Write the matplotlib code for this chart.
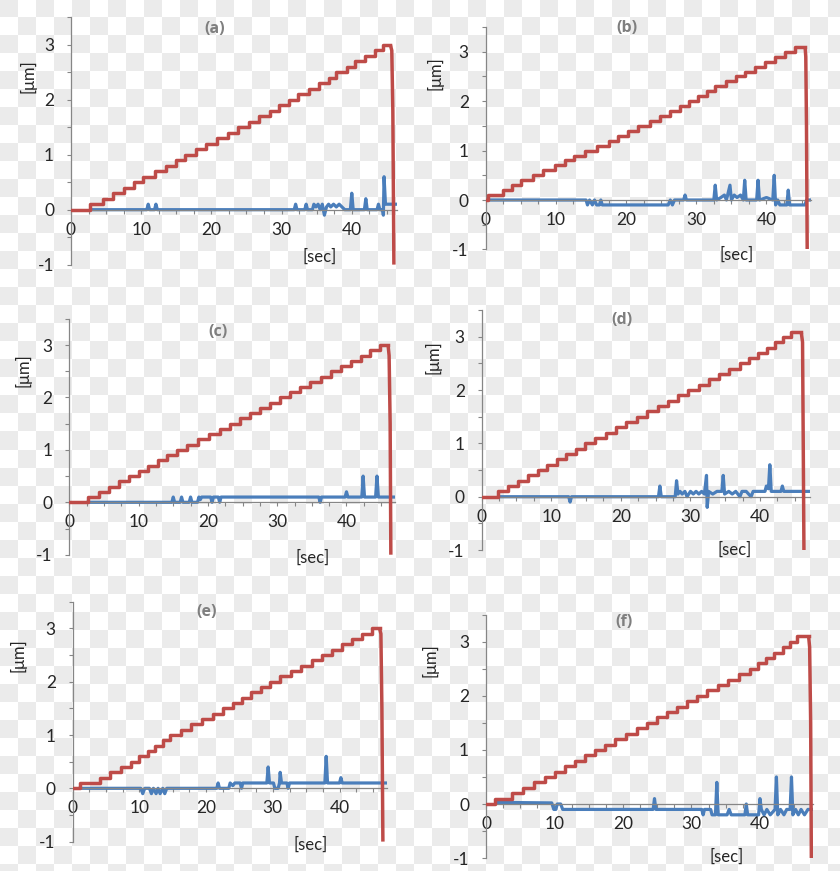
import matplotlib
matplotlib.use("Agg")
import matplotlib.pyplot as plt
import numpy as np
from matplotlib.ticker import MultipleLocator

plt.rcParams['font.family'] = ['Lato', 'DejaVu Sans']
plt.rcParams['axes.unicode_minus'] = False

# step levels of the red (position) curve [um]
levels_30 = [0.0, 0.1, 0.2, 0.3, 0.4, 0.5, 0.6, 0.7, 0.8, 0.9, 1.0, 1.1, 1.2, 1.3, 1.4, 1.5,
             1.6, 1.7, 1.8, 1.9, 2.0, 2.1, 2.2, 2.3, 2.4, 2.5, 2.6, 2.7, 2.8, 2.9, 3.0]
levels_31 = levels_30 + [3.1]

# times [sec] at which each red level starts
red_t_a = [0, 2.7, 4.6, 6.0, 7.6, 9.0, 10.3, 12.0, 13.5, 15.0, 16.2, 17.8, 19.3, 20.8, 22.3, 23.8,
           25.4, 26.8, 28.3, 29.7, 31.1, 32.4, 33.9, 35.4, 36.7, 37.8, 39.3, 40.5, 41.9, 43.3, 44.5]
red_t_b = [0, 0.3, 2.5, 3.7, 5.1, 6.8, 8.2, 9.9, 11.3, 12.6, 14.1, 15.8, 17.5, 18.9, 20.3, 21.7,
           23.4, 24.8, 26.3, 27.7, 29.0, 30.3, 31.5, 32.7, 34.3, 35.7, 36.9, 38.4, 39.8, 41.2, 42.6, 44.1]
red_t_c = [0, 2.7, 4.3, 5.7, 7.2, 8.6, 10.0, 11.4, 12.8, 14.1, 15.5, 17.0, 18.6, 20.1, 21.7, 23.2,
           24.6, 26.1, 27.5, 29.0, 30.4, 31.9, 33.3, 34.8, 36.3, 37.8, 39.2, 40.7, 42.1, 43.4, 44.8]
red_t_d = [0, 2.4, 3.8, 5.2, 6.6, 8.1, 9.4, 10.8, 12.1, 13.5, 14.8, 16.3, 17.8, 19.3, 20.8, 22.3,
           23.8, 25.3, 26.8, 28.2, 29.7, 31.2, 32.6, 34.1, 35.6, 37.1, 38.4, 39.7, 41.0, 42.1, 43.3, 44.4]
red_t_e = [0, 1.1, 4.1, 5.6, 7.3, 8.8, 10.0, 11.3, 12.4, 13.5, 14.6, 16.2, 17.8, 19.4, 21.0, 22.6,
           24.0, 25.4, 26.8, 28.2, 29.6, 31.1, 32.7, 34.2, 35.8, 37.3, 38.8, 40.3, 41.8, 43.3, 44.8]
red_t_f = [0, 1.3, 3.8, 5.4, 7.0, 8.6, 10.1, 11.5, 13.0, 14.4, 15.9, 17.4, 18.9, 20.4, 22.0, 23.5,
           25.0, 26.4, 27.9, 29.3, 30.8, 32.3, 33.9, 35.4, 37.0, 38.5, 39.7, 40.9, 42.1, 43.3, 44.4, 45.4]

# final fall of the red curve (time, value)
drop_a = [(45.5, 3.0), (45.7, 2.9), (45.85, 1.8), (46.0, -1.0)]
drop_b = [(45.5, 3.1), (45.6, 2.9), (45.7, 1.5), (45.8, -1.0)]
drop_c = [(46.0, 3.0), (46.15, 2.8), (46.3, 1.5), (46.4, -1.0)]
drop_d = [(45.9, 3.1), (46.1, 2.9), (46.2, 1.0), (46.3, -1.0)]
drop_e = [(46.0, 3.0), (46.2, 2.9), (46.35, 1.5), (46.5, -1.0)]
drop_f = [(47.1, 3.1), (47.25, 2.9), (47.4, 1.5), (47.5, -1.0)]

# blue (error) curve (time, value)
blue_a = [(2.9, 0), (10.8, 0), (11.0, 0.1), (11.2, 0), (11.9, 0), (12.1, 0.1), (12.3, 0), (31.8, 0),
          (32.0, 0.1), (32.2, 0), (33.3, 0), (33.5, 0.1), (33.7, 0), (34.4, 0), (34.6, 0.1), (34.9, 0.05),
          (35.2, 0.1), (35.5, 0), (35.8, 0.1), (36.1, -0.1), (36.4, 0.05), (36.7, 0.1), (37.0, 0.05),
          (37.4, 0.1), (37.8, 0.05), (38.2, 0.1), (38.6, 0.05), (39.0, 0), (39.8, 0), (40.0, 0.3),
          (40.2, 0), (41.8, 0), (42.0, 0.2), (42.2, 0), (43.6, 0), (43.8, 0.1), (44.0, 0), (44.4, 0),
          (44.5, -0.1), (44.6, 0.6), (44.8, 0.1), (46.5, 0.1)]
blue_b = [(0, 0), (14.3, 0), (14.5, -0.1), (14.8, 0), (15.2, -0.1), (15.5, 0), (15.8, -0.1), (16.2, -0.1),
          (16.4, 0), (16.6, -0.1), (26.0, -0.1), (26.3, 0), (26.6, -0.1), (26.9, 0), (28.2, 0), (28.4, 0.1),
          (28.6, 0), (32.5, 0), (32.7, 0.3), (32.9, 0), (33.5, 0.05), (34.0, 0.1), (34.3, 0), (34.8, 0.3),
          (35.0, 0), (35.4, 0.1), (35.8, 0.05), (36.3, 0.1), (36.7, 0), (36.9, 0.4), (37.1, 0), (38.6, 0),
          (38.8, 0.4), (39.0, 0), (40.0, 0.05), (40.9, 0), (41.1, 0.5), (41.3, -0.1), (41.6, 0), (41.9, -0.1),
          (42.9, -0.1), (43.1, 0.2), (43.3, -0.1), (45.5, -0.1), (45.7, 0), (46.2, 0)]
blue_c = [(2.7, 0), (14.8, 0), (15.0, 0.1), (15.2, 0), (16.0, 0), (16.2, 0.1), (16.4, 0), (17.3, 0),
          (17.5, 0.1), (17.7, 0), (18.5, 0), (18.7, 0.1), (18.9, 0.05), (19.1, 0.1), (20.4, 0.1), (20.6, 0),
          (20.8, 0.1), (21.5, 0.1), (21.7, 0), (21.9, 0.1), (36.0, 0.1), (36.2, 0), (36.4, 0.1), (39.8, 0.1),
          (40.0, 0.2), (40.2, 0.1), (42.2, 0.1), (42.4, 0.5), (42.6, 0.1), (44.2, 0.1), (44.4, 0.5),
          (44.6, 0.1), (46.9, 0.1)]
blue_d = [(2.6, 0), (12.5, 0), (12.7, -0.1), (12.9, 0), (25.4, 0), (25.6, 0.2), (25.8, 0), (27.8, 0),
          (28.0, 0.3), (28.2, 0.05), (28.5, 0.1), (28.8, 0.05), (29.2, 0.1), (29.5, 0), (30.0, 0.1),
          (30.4, 0.05), (30.8, 0.1), (31.2, 0.05), (31.6, 0.1), (32.0, 0.05), (32.3, 0.4), (32.4, -0.2),
          (32.6, 0.1), (33.2, 0.05), (33.8, 0.1), (34.5, 0.1), (34.7, 0.4), (34.9, 0.05), (35.5, 0.1),
          (36.0, 0.05), (36.5, 0.1), (37.1, 0), (37.4, 0.1), (38.0, 0.1), (38.7, 0), (39.0, 0.1),
          (40.7, 0.1), (40.9, 0.2), (41.2, 0.15), (41.4, 0.6), (41.6, 0.1), (43.0, 0.1), (43.2, 0.2),
          (43.4, 0.1), (47.2, 0.1)]
blue_e = [(1.1, 0), (10.2, 0), (10.5, -0.1), (10.8, 0), (11.5, 0), (11.8, -0.1), (12.1, 0), (12.5, -0.1),
          (12.8, 0), (13.1, -0.1), (13.5, 0), (13.8, -0.1), (14.1, 0), (21.6, 0), (21.8, 0.1), (22.0, 0),
          (23.4, 0), (23.6, 0.1), (24.0, 0.05), (24.3, 0.1), (24.6, 0.1), (25.1, 0.1), (25.3, 0),
          (25.5, 0.1), (29.1, 0.1), (29.3, 0.4), (29.5, 0.1), (30.1, 0.1), (30.3, 0), (30.8, 0),
          (31.0, 0.1), (31.1, 0.3), (31.3, 0.1), (32.1, 0.1), (32.3, 0), (32.5, 0.1), (37.8, 0.1),
          (38.0, 0.6), (38.2, 0.1), (40.0, 0.1), (40.2, 0.2), (40.4, 0.1), (47.1, 0.1)]
blue_f = [(1.6, 0.03), (9.6, 0.02), (9.9, -0.1), (10.2, -0.1), (10.4, 0), (10.9, 0), (11.2, -0.1),
          (24.4, -0.1), (24.6, 0.1), (24.8, -0.1), (31.5, -0.1), (31.7, -0.2), (31.9, -0.1), (32.8, -0.1),
          (33.0, -0.2), (33.5, -0.2), (33.7, 0.4), (33.9, -0.2), (35.2, -0.2), (35.5, -0.1), (35.8, -0.2),
          (37.8, -0.2), (38.0, 0), (38.2, -0.2), (39.8, -0.2), (40.0, 0.1), (40.2, -0.1), (40.6, -0.2),
          (41.0, -0.1), (41.5, -0.2), (42.2, -0.1), (42.4, 0.5), (42.6, -0.2), (43.0, -0.1), (43.5, -0.2),
          (43.9, -0.1), (44.4, -0.1), (44.6, 0.5), (44.8, -0.2), (45.2, -0.1), (45.6, -0.2), (46.0, -0.1),
          (46.5, -0.2), (47.0, -0.1), (47.8, -0.1)]

panel_names = ['(a)', '(b)', '(c)', '(d)', '(e)', '(f)']

W, H = 840, 871
RED = '#be4b48'
BLUE = '#4a7ebb'
AXC = '#868686'

# layout in pixels: axes box (left, top, right, bottom), x max, label spots
layout = [
    dict(box=(71, 17.5, 397.4, 264.6), xmax=46.5, title=(215, 29), sec=(320, 257), um=(28, 76)),
    dict(box=(485.7, 27.1, 810.7, 249.4), xmax=46.3, title=(627, 28), sec=(737, 255), um=(435, 73)),
    dict(box=(69.3, 318.9, 395.0, 554.7), xmax=47.0, title=(218, 332), sec=(313, 558), um=(23, 370)),
    dict(box=(481.7, 310.2, 810.2, 550.0), xmax=47.2, title=(622, 320), sec=(735, 550), um=(433, 357)),
    dict(box=(72.7, 601.8, 386.9, 841.6), xmax=47.1, title=(207, 612), sec=(311, 845), um=(18, 655)),
    dict(box=(486.0, 614.7, 813.4, 858.1), xmax=47.8, title=(624, 622), sec=(727, 857), um=(430, 660)),
]

series = [
    (red_t_a, levels_30, drop_a, blue_a),
    (red_t_b, levels_31, drop_b, blue_b),
    (red_t_c, levels_30, drop_c, blue_c),
    (red_t_d, levels_31, drop_d, blue_d),
    (red_t_e, levels_30, drop_e, blue_e),
    (red_t_f, levels_31, drop_f, blue_f),
]

fig = plt.figure(figsize=(W / 100, H / 100), dpi=100)

# checkerboard backdrop of the source image, in its own axes behind everything
ii, jj = np.indices((H, W))
chk = ((ii // 18 + jj // 18) % 2 == 0)
bg = np.where(chk[..., None], np.array([235, 235, 235]), np.array([255, 255, 255])).astype(np.uint8)
bax = fig.add_axes([0, 0, 1, 1], zorder=-5)
bax.imshow(bg, interpolation='nearest', aspect='auto')
bax.axis('off')

for name, lay, (rt, lv, drop, blue) in zip(panel_names, layout, series):
    l, t, r, b = lay['box']
    ax = fig.add_axes([l / W, 1 - b / H, (r - l) / W, (b - t) / H], zorder=2)
    ax.patch.set_visible(False)

    bt = [p[0] for p in blue]
    by = [p[1] for p in blue]
    ax.plot(bt, by, color=BLUE, lw=2.3, solid_joinstyle='round', zorder=2)

    ax.step(rt + [drop[0][0]], lv + [lv[-1]], where='post', color=RED, lw=2.5, zorder=3)
    ax.plot([p[0] for p in drop], [p[1] for p in drop], color=RED, lw=2.5,
            solid_capstyle='butt', zorder=3)

    ax.set_xlim(0, lay['xmax'])
    ax.set_ylim(-1, 3.5)
    ax.spines['top'].set_visible(False)
    ax.spines['right'].set_visible(False)
    ax.spines['left'].set_position(('data', 0))
    ax.spines['bottom'].set_position(('data', 0))
    for s in ('left', 'bottom'):
        ax.spines[s].set_color(AXC)
        ax.spines[s].set_linewidth(0.9)

    ax.set_xticks([0, 10, 20, 30, 40])
    ax.set_yticks([-1, 0, 1, 2, 3])
    ax.xaxis.set_minor_locator(MultipleLocator(2.5))
    ax.yaxis.set_minor_locator(MultipleLocator(0.5))
    ax.tick_params(which='both', direction='out', length=3.2, width=0.8, color=AXC)
    ax.tick_params(axis='x', which='major', pad=5.5, labelsize=12.5, labelcolor='#262626')
    ax.tick_params(axis='y', which='major', pad=9, labelsize=12.5, labelcolor='#262626')

    fig.text(lay['title'][0] / W, 1 - lay['title'][1] / H, name, ha='center', va='center',
             fontsize=11.5, fontweight='bold', color='#7f7f7f', family=['Open Sans', 'DejaVu Sans'],
             zorder=3)
    fig.text(lay['sec'][0] / W, 1 - lay['sec'][1] / H, '[sec]', ha='center', va='center',
             fontsize=12, color='#262626', zorder=3)
    fig.text(lay['um'][0] / W, 1 - lay['um'][1] / H, '[\u03bcm]', ha='center', va='center',
             fontsize=12, color='#262626', rotation=90, zorder=3)

fig.savefig('out.png', dpi=100)
